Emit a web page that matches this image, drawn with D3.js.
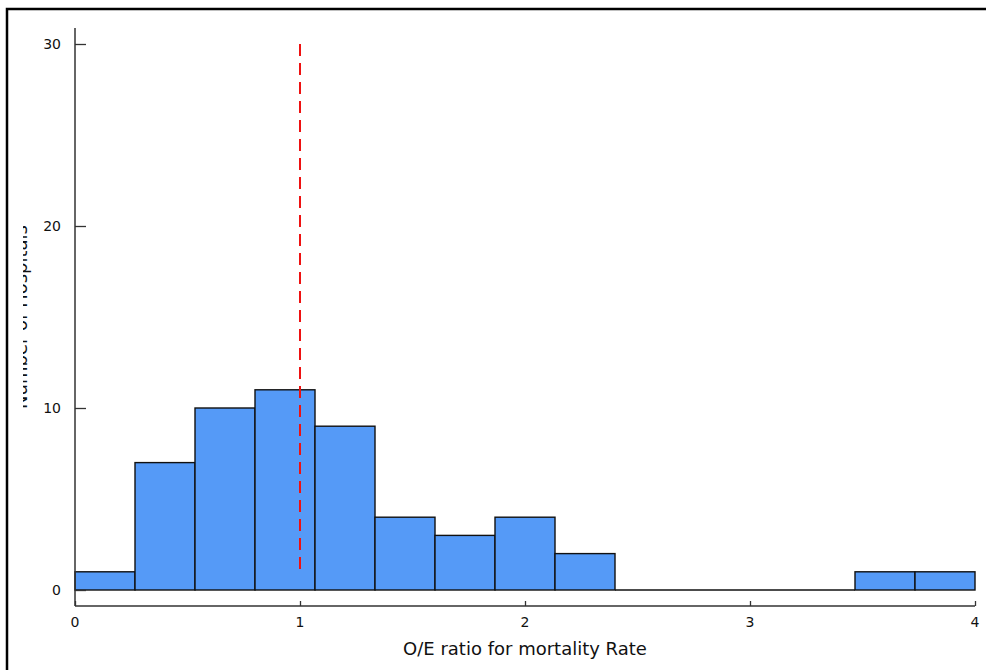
<!DOCTYPE html>
<html>
<head>
<meta charset="utf-8">
<script src="https://cdn.jsdelivr.net/npm/d3@7"></script>
<style>
  html, body { margin: 0; padding: 0; background: #fff; }
  svg { display: block; font-family: "DejaVu Sans", sans-serif; }
</style>
</head>
<body>
<svg id="chart" width="986" height="670"></svg>
<script>
// Data
const binEdges = [0, 4/15, 8/15, 12/15, 16/15, 20/15, 24/15, 28/15, 32/15, 36/15, 40/15, 44/15, 48/15, 52/15, 56/15, 4];
const counts = [1, 7, 10, 11, 9, 4, 3, 4, 2, 0, 0, 0, 0, 1, 1];
const xTicks = [0, 1, 2, 3, 4];
const yTicks = [0, 10, 20, 30];
const refLine = { x: 1, y0: 1, y1: 30 };
const xLabel = "O/E ratio for mortality Rate";
const yLabel = "Number of Hospitals";

const svg = d3.select("#chart");

const x = d3.scaleLinear().domain([0, 4]).range([75, 975]);
const y = d3.scaleLinear().domain([0, 30]).range([590, 44]);

// y label (partially hidden, as in reference)
svg.append("text")
  .attr("transform", "translate(27,317) rotate(-90)")
  .attr("text-anchor", "middle").attr("font-size", 18).attr("fill", "#111")
  .text(yLabel);
svg.append("rect").attr("x", 0).attr("y", 200).attr("width", 23).attr("height", 240)
  .attr("fill", "#fff");

// frame
svg.append("rect")
  .attr("x", 7).attr("y", 9).attr("width", 1200).attr("height", 900)
  .attr("fill", "none").attr("stroke", "#000").attr("stroke-width", 2.5);

// bars
const bins = counts.map((c, i) => ({ x0: binEdges[i], x1: binEdges[i + 1], c }));
svg.append("g").selectAll("rect").data(bins.filter(d => d.c > 0)).join("rect")
  .attr("x", d => x(d.x0))
  .attr("y", d => y(d.c))
  .attr("width", d => x(d.x1) - x(d.x0))
  .attr("height", d => y(0) - y(d.c))
  .attr("fill", "#559af7")
  .attr("stroke", "#111")
  .attr("stroke-width", 1.4);
// empty bins drawn as flat outlines on the baseline
svg.append("g").selectAll("line").data(bins.filter(d => d.c === 0)).join("line")
  .attr("x1", d => x(d.x0)).attr("x2", d => x(d.x1))
  .attr("y1", d => y(d.c)).attr("y2", d => y(d.c))
  .attr("stroke", "#111").attr("stroke-width", 1.4);

// reference line
svg.append("line")
  .attr("x1", x(refLine.x)).attr("x2", x(refLine.x))
  .attr("y1", y(refLine.y1)).attr("y2", y(refLine.y0))
  .attr("stroke", "#ee1111").attr("stroke-width", 2)
  .attr("stroke-dasharray", "12,7");

// y axis
const yAxis = d3.axisRight(y).tickValues(yTicks).tickSize(11).tickFormat("");
const gy = svg.append("g").attr("transform", "translate(75,0)").call(yAxis);
gy.select(".domain").remove();
gy.selectAll(".tick line").attr("stroke", "#333").attr("stroke-width", 1.3);
svg.append("line").attr("x1", 75).attr("x2", 75).attr("y1", 28).attr("y2", 606)
  .attr("stroke", "#333").attr("stroke-width", 1.5);
svg.append("g").selectAll("text").data(yTicks).join("text")
  .attr("x", 61).attr("y", d => y(d)).attr("dy", "0.36em")
  .attr("text-anchor", "end").attr("font-size", 14).attr("fill", "#111")
  .text(d => d);

// x axis
const xAxis = d3.axisTop(x).tickValues(xTicks).tickSize(5).tickFormat("");
const gx = svg.append("g").attr("transform", "translate(0,606)").call(xAxis);
gx.select(".domain").remove();
gx.selectAll(".tick line").attr("stroke", "#333").attr("stroke-width", 1.3);
svg.append("line").attr("x1", 75).attr("x2", 975).attr("y1", 606).attr("y2", 606)
  .attr("stroke", "#333").attr("stroke-width", 1.5);
svg.append("g").selectAll("text").data(xTicks).join("text")
  .attr("x", d => x(d)).attr("y", 627)
  .attr("text-anchor", "middle").attr("font-size", 14).attr("fill", "#111")
  .text(d => d);

// x label
svg.append("text").attr("x", 525).attr("y", 655)
  .attr("text-anchor", "middle").attr("font-size", 18).attr("fill", "#111")
  .text(xLabel);
</script>
</body>
</html>
